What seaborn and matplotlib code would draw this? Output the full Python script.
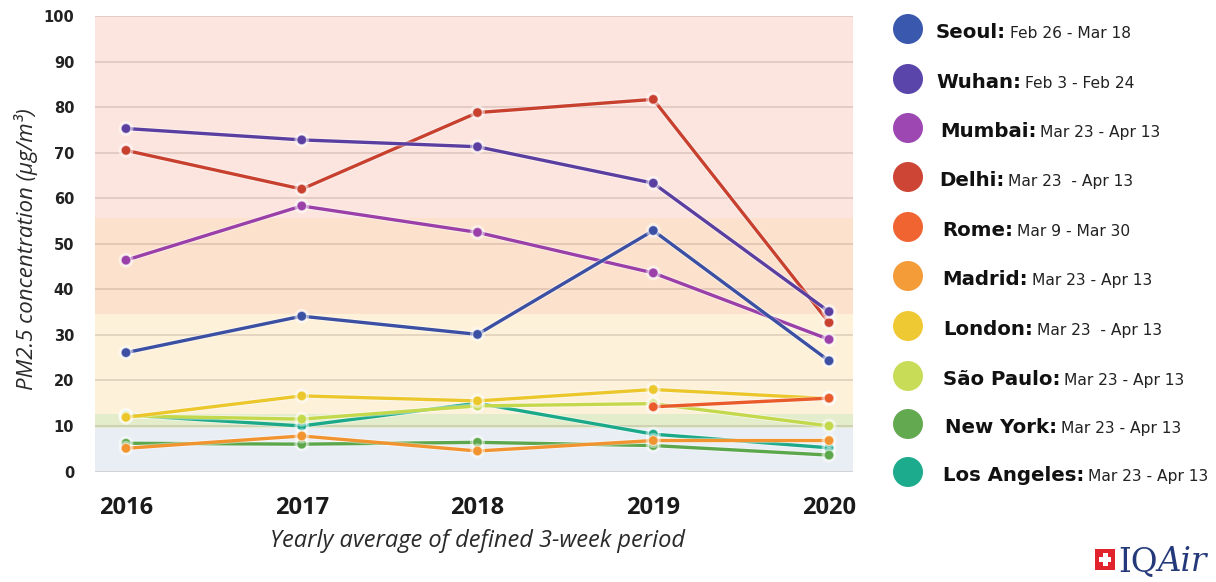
import matplotlib
matplotlib.use("Agg")
import matplotlib.pyplot as plt
import matplotlib.patheffects as pe
from matplotlib.patches import Ellipse, Rectangle
import seaborn as sns
import pandas as pd

# ---- data -------------------------------------------------------------
years = [2016, 2017, 2018, 2019, 2020]
cities = ["Seoul", "Wuhan", "Mumbai", "Delhi", "Rome", "Madrid",
          "London", "São Paulo", "New York", "Los Angeles"]
periods = ["Feb 26 - Mar 18", "Feb 3 - Feb 24", "Mar 23 - Apr 13",
           "Mar 23  - Apr 13", "Mar 9 - Mar 30", "Mar 23 - Apr 13",
           "Mar 23  - Apr 13", "Mar 23 - Apr 13", "Mar 23 - Apr 13",
           "Mar 23 - Apr 13"]

seoul = [26.1, 34.1, 30.1, 52.9, 24.3]
wuhan = [75.3, 72.8, 71.3, 63.3, 35.1]
mumbai = [46.4, 58.3, 52.5, 43.6, 29.0]
delhi = [70.5, 62.0, 78.8, 81.7, 32.7]
rome = [None, None, None, 14.2, 16.1]
madrid = [5.1, 7.8, 4.5, 6.8, 6.8]
london = [11.9, 16.6, 15.5, 18.0, 16.0]
sao_paulo = [12.2, 11.5, 14.4, 14.9, 10.0]
new_york = [6.2, 6.0, 6.4, 5.7, 3.6]
los_angeles = [12.4, 10.0, 15.0, 8.2, 5.2]

series = [seoul, wuhan, mumbai, delhi, rome, madrid,
          london, sao_paulo, new_york, los_angeles]

line_colors = ["#3b4fa3", "#5a3fa0", "#9a40a8", "#c8412f", "#ea5b2b",
               "#f1932f", "#ecc72c", "#c4d84c", "#5ca74b", "#1ba98a"]
dot_colors = ["#3a58ad", "#5a46aa", "#9c47b2", "#cc4535", "#ef6431",
              "#f49c38", "#efc934", "#c9dc57", "#63a950", "#1cab8c"]

# PM2.5 category bands (lower, upper, colour)
bands = [(0, 9.5, "#e8eef4"), (9.5, 12.6, "#e3edcb"), (12.6, 34.6, "#fdf1da"),
         (34.6, 55.6, "#fce2cd"), (55.6, 100, "#fce5df")]

rows = []
for city, vals in zip(cities, series):
    for yr, v in zip(years, vals):
        if v is not None:
            rows.append({"year": yr, "pm25": v, "city": city})
df = pd.DataFrame(rows)

# ---- figure -----------------------------------------------------------
sns.set_theme(style="white")
plt.rcParams["font.family"] = ["DejaVu Sans"]

W, H = 1216, 582
fig = plt.figure(figsize=(W / 100, H / 100), dpi=100)
ax = fig.add_axes([95 / W, 1 - 471.5 / H, (853 - 95) / W, (471.5 - 16) / H])

for lo, hi, c in bands:
    ax.axhspan(lo, hi, color=c, zorder=0, lw=0)

for v in range(0, 101, 10):
    ax.axhline(v, color="#7a5a50", alpha=0.22, lw=1.2, zorder=0.5)

sns.lineplot(data=df, x="year", y="pm25", hue="city", hue_order=cities,
             palette=dict(zip(cities, line_colors)), marker="o",
             markersize=7, linewidth=2.4, markeredgewidth=0.9,
             markeredgecolor=(1, 1, 1, 0.55), legend=False, ax=ax)

# first cities in the list sit on top
city_lines = ax.lines[-len(cities):]
for i, ln in enumerate(city_lines):
    ln.set_zorder(3 + (len(cities) - i) * 0.01)
    ln.set_path_effects([pe.Stroke(linewidth=3.8, foreground="white", alpha=0.45),
                         pe.Normal()])

ax.set_xlim(2016 - 31 / 175.75, 2020 + 24 / 175.75)
ax.set_ylim(0, 100)
for s in ax.spines.values():
    s.set_visible(False)
ax.grid(False)

ax.set_xticks(years, labels=[str(y) for y in years], fontsize=17,
              fontweight="bold", family="Open Sans", color="#1a1a1a")
ax.set_yticks(range(0, 101, 10), labels=[str(v) for v in range(0, 101, 10)],
              fontsize=10.5, fontweight="bold", family="DejaVu Sans", color="#222222")
ax.tick_params(axis="both", length=0)
ax.tick_params(axis="x", pad=17.5)
ax.tick_params(axis="y", pad=15)

ax.set_xlabel("Yearly average of defined 3-week period", fontsize=17,
              fontstyle="italic", family="Open Sans", color="#2a2a2a", va="center")
ax.xaxis.set_label_coords((478 - 95) / 758, (471.5 - 541) / 455.5)
ax.set_ylabel("PM2.5 concentration (μg/m³)", fontsize=16,
              fontstyle="italic", family="Open Sans", color="#2a2a2a",
              va="center", ha="center")
ax.yaxis.set_label_coords((26 - 95) / 758, (471.5 - 249.5) / 455.5)

# ---- legend -----------------------------------------------------------
fig.canvas.draw()
renderer = fig.canvas.get_renderer()
row_y = [29, 79, 128, 177, 227, 276, 326, 376, 424, 472]
row_x = [936, 936, 940, 939, 942, 942, 943, 943, 945, 943]
for city, period, c, x, y in zip(cities, periods, dot_colors, row_x, row_y):
    fig.add_artist(Ellipse((908 / W, 1 - y / H), 30 / W, 30 / H,
                           transform=fig.transFigure, color=c, lw=0))
    t = fig.text(x / W, 1 - (y + 9) / H, city + ":", fontsize=14.2,
                 fontweight="bold", color="#111111", va="baseline", ha="left")
    bb = t.get_window_extent(renderer)
    fig.text((bb.x1 + 4) / W, 1 - (y + 9) / H, period, fontsize=11.2,
             color="#222222", va="baseline", ha="left")

# ---- brand mark -------------------------------------------------------
fig.add_artist(Rectangle((1095 / W, 1 - 570 / H), 20 / W, 21 / H,
                         transform=fig.transFigure, color="#e0232c", lw=0))
fig.add_artist(Rectangle((1102.5 / W, 1 - 566 / H), 5 / W, 13 / H,
                         transform=fig.transFigure, color="white", lw=0))
fig.add_artist(Rectangle((1099 / W, 1 - 562 / H), 12 / W, 5 / H,
                         transform=fig.transFigure, color="white", lw=0))
t1 = fig.text(1118 / W, 1 - 571 / H, "IQ", fontsize=23.5, family="DejaVu Serif",
              color="#24397a", va="baseline", ha="left")
bb = t1.get_window_extent(renderer)
fig.text(bb.x1 / W, 1 - 571 / H, "Air", fontsize=23.5, family="DejaVu Serif",
         fontstyle="italic", color="#24397a", va="baseline", ha="left")

fig.savefig("out.png", dpi=100)
